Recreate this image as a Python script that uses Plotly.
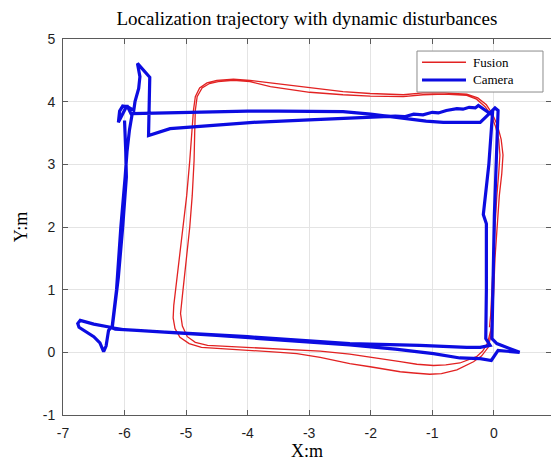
import plotly.graph_objects as go

# Fusion trajectory (two laps), metres
fusion_x = [
    -0.02, -0.04, -0.09, -0.20, -0.33, -0.60, -0.85, -1.04, -1.30, -1.52, -2.01, -2.34, -2.82, -3.20,
    -3.47, -3.91, -4.50, -4.75, -4.95, -5.10, -5.18, -5.21, -5.20, -5.17, -5.10, -5.04, -4.99, -4.94,
    -4.91, -4.88, -4.85, -4.78, -4.66, -4.50, -4.23, -3.96, -3.63, -3.30, -2.99, -2.45, -2.01, -1.47,
    -1.15, -0.80, -0.44, -0.26, -0.12, -0.02, 0.06, 0.12, 0.15, 0.13, 0.09, 0.05, 0.02, 0.00, -0.02,
    -0.05, -0.10, -0.18, -0.28, -0.55, -0.78, -0.98, -1.25, -1.52, -2.07, -2.34, -2.82, -3.47, -4.00,
    -4.40, -4.65, -4.85, -4.98, -5.06, -5.09, -5.06, -5.00, -4.94, -4.90, -4.87, -4.86, -4.85, -4.82,
    -4.74, -4.62, -4.48, -4.23, -3.96, -3.63, -3.30, -2.99, -2.45, -2.01, -1.47, -1.15, -0.80, -0.44,
    -0.28, -0.14, -0.04, 0.03, 0.08, 0.10, 0.08, 0.05, 0.02, -0.01, -0.03, -0.05, -0.07,
]
fusion_y = [
    0.55, 0.30, 0.08, -0.06, -0.15, -0.28, -0.34, -0.35, -0.33, -0.31, -0.23, -0.18, -0.08, -0.02,
    0.00, 0.03, 0.06, 0.08, 0.14, 0.24, 0.38, 0.55, 0.75, 1.00, 1.50, 2.00, 2.50, 3.06,
    3.50, 3.86, 4.08, 4.22, 4.30, 4.34, 4.36, 4.34, 4.30, 4.26, 4.22, 4.16, 4.13, 4.11,
    4.14, 4.14, 4.12, 4.06, 3.95, 3.80, 3.62, 3.40, 3.15, 2.85, 2.50, 2.00, 1.50, 1.00, 0.55,
    0.35, 0.15, 0.02, -0.07, -0.17, -0.20, -0.21, -0.19, -0.15, -0.07, -0.03, 0.02, 0.05, 0.07,
    0.09, 0.11, 0.16, 0.25, 0.42, 0.62, 0.90, 1.40, 2.00, 2.50, 3.06, 3.50, 3.86, 4.08,
    4.22, 4.29, 4.32, 4.34, 4.32, 4.24, 4.19, 4.15, 4.11, 4.09, 4.08, 4.11, 4.12, 4.10,
    4.04, 3.92, 3.78, 3.60, 3.40, 3.15, 2.85, 2.50, 2.00, 1.50, 1.00, 0.60, 0.40,
]

# Camera-only trajectory, metres
camera_x = [
    -5.88, -5.50, -5.00, -4.50, -4.00, -3.50, -3.00, -2.45, -2.00, -1.47, -1.10, -0.82, -0.22, -0.06,
    0.02, 0.07, 0.04, 0.01, -0.01, -0.03, -0.03, 0.05, 0.42, 0.07, -0.04, -0.22, -0.55, -0.98,
    -1.60, -2.34, -3.00, -3.80, -4.50, -5.26, -5.80, -6.15, -6.23, -6.50, -6.72, -6.76, -6.74, -6.50,
    -6.40, -6.34, -6.30, -6.26, -6.20, -6.13, -6.06, -5.99, -5.96, -5.92, -5.88, -5.96, -6.04, -6.10,
    -6.08, -6.03, -5.95, -5.85, -5.83, -5.77, -5.75, -5.79, -5.59, -5.60, -5.61, -5.26, -4.50, -3.91,
    -3.00, -2.00, -1.80, -1.60, -1.45, -1.30, -1.15, -1.00, -0.90, -0.77, -0.60, -0.50, -0.40, -0.30,
    -0.25, -0.06, -0.02, -0.08, -0.17, -0.12, -0.12, -0.13, -0.06, -0.22, -0.44, -1.20, -2.34, -3.20,
    -4.00, -5.26, -6.00, -6.20, -6.10, -6.03, -5.97, -5.98, -6.00,
]
camera_y = [
    3.81, 3.82, 3.83, 3.84, 3.85, 3.85, 3.85, 3.84, 3.80, 3.73, 3.69, 3.67, 3.67, 3.82,
    3.90, 3.86, 3.00, 2.20, 1.20, 0.30, 0.22, 0.14, 0.00, 0.03, -0.13, -0.10, -0.09, -0.02,
    0.05, 0.12, 0.17, 0.22, 0.27, 0.31, 0.35, 0.37, 0.40, 0.45, 0.51, 0.46, 0.40, 0.25,
    0.15, 0.01, 0.10, 0.35, 0.42, 1.00, 2.00, 2.80, 3.20, 3.55, 3.78, 3.94, 3.80, 3.67,
    3.85, 3.93, 3.92, 3.86, 4.00, 4.21, 4.40, 4.61, 4.39, 4.00, 3.46, 3.57, 3.63, 3.67,
    3.71, 3.75, 3.75, 3.77, 3.76, 3.80, 3.79, 3.83, 3.82, 3.86, 3.89, 3.88, 3.91, 3.90,
    3.94, 3.81, 3.82, 3.00, 2.20, 2.05, 1.00, 0.22, 0.11, 0.08, 0.08, 0.11, 0.14, 0.20,
    0.25, 0.32, 0.36, 0.39, 1.20, 2.00, 2.80, 3.20, 3.70,
]

x_ticks = [-7, -6, -5, -4, -3, -2, -1, 0, 1]
x_tick_text = ["-7", "-6", "-5", "-4", "-3", "-2", "-1", "0", "1"]
y_ticks = [-1, 0, 1, 2, 3, 4, 5]
y_tick_text = ["-1", "0", "1", "2", "3", "4", "5"]

RED = "rgb(226,34,34)"
BLUE = "rgb(12,12,225)"
SERIF = "Liberation Serif, Times New Roman, serif"
SANS = "Liberation Sans, Arial, sans-serif"
TICK_FONT = dict(family=SANS, size=14, color="rgb(30,30,30)")

fig = go.Figure()
fig.add_trace(go.Scatter(x=fusion_x, y=fusion_y, mode="lines", name="Fusion",
                         line=dict(color=RED, width=1.3), showlegend=False))
fig.add_trace(go.Scatter(x=camera_x, y=camera_y, mode="lines", name="Camera",
                         line=dict(color=BLUE, width=3.2), showlegend=False))

axis_common = dict(
    showgrid=True, gridcolor="rgb(228,228,228)", gridwidth=1,
    showline=True, linecolor="rgb(90,90,90)", linewidth=1, mirror="ticks",
    ticks="inside", ticklen=5, tickcolor="rgb(90,90,90)",
    tickfont=TICK_FONT, zeroline=False,
)

fig.update_xaxes(range=[-7, 0.93], tickvals=x_ticks, ticktext=x_tick_text, ticklabelstandoff=5,
                 title=dict(text="X:m", font=dict(family=SERIF, size=18, color="black"), standoff=0),
                 **axis_common)
fig.update_yaxes(range=[-1, 5], tickvals=y_ticks, ticktext=y_tick_text, ticklabelstandoff=4,
                 title=dict(text="Y:m", font=dict(family=SERIF, size=18, color="black"), standoff=10),
                 **axis_common)

# Legend box drawn in paper coordinates
lx0, lx1, ly0, ly1 = 0.7254, 0.9836, 0.859, 0.968
fig.add_shape(type="rect", xref="paper", yref="paper", x0=lx0, x1=lx1, y0=ly0, y1=ly1,
              line=dict(color="rgb(140,140,140)", width=1), fillcolor="white", layer="above")
legend_rows = [("Fusion", RED, 1.6, 0.938), ("Camera", BLUE, 3.2, 0.891)]
for label, color, width, yy in legend_rows:
    fig.add_shape(type="line", xref="paper", yref="paper", x0=0.7357, x1=0.8258, y0=yy, y1=yy,
                  line=dict(color=color, width=width), layer="above")
    fig.add_annotation(xref="paper", yref="paper", x=0.8355, y=yy, text=label, showarrow=False,
                       xanchor="left", yanchor="middle",
                       font=dict(family=SERIF, size=13, color="black"))

# Tick label at x = 1 sits at the right edge of the axis
fig.add_annotation(x=1, y=-1, xref="x", yref="y", text="1", showarrow=False,
                   xanchor="center", yanchor="top", yshift=-10, font=TICK_FONT)

fig.update_layout(
    width=551, height=461, autosize=False,
    margin=dict(l=63, r=0, t=39, b=46),
    paper_bgcolor="white", plot_bgcolor="white",
    title=dict(text="Localization trajectory with dynamic disturbances",
               font=dict(family=SERIF, size=19, color="black"),
               x=0.557, xanchor="center", y=0.96, yanchor="middle", xref="container", yref="container"),
)

fig.write_html("out.html")
